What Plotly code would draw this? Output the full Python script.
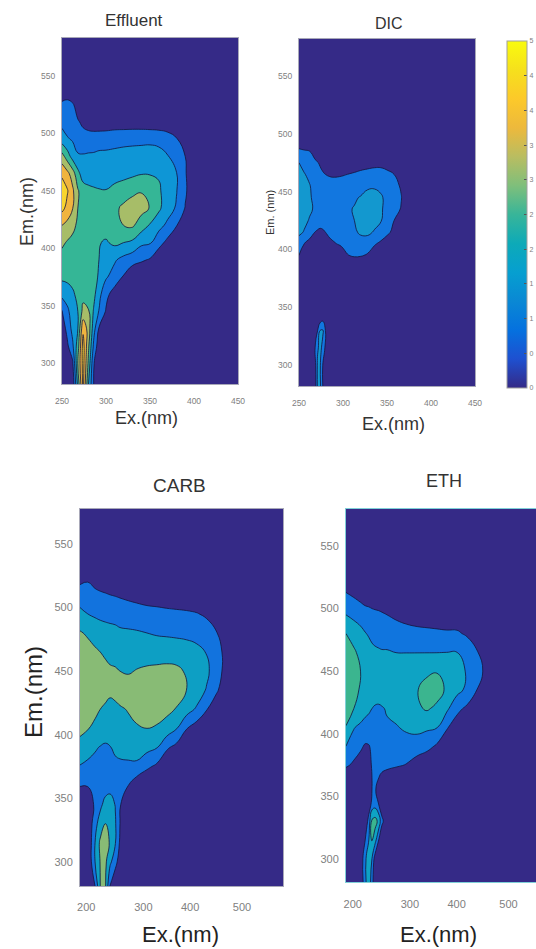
import plotly.graph_objects as go

W, H = 536, 949

parula = ["#352a87", "#1e50d0", "#0571df", "#0a88d4", "#069fd0", "#0daab8", "#38b599",
          "#7fbf7b", "#b9bd61", "#edb93c", "#fcc92a", "#f6e01c", "#f9fb0e"]

# ---------- Effluent ----------
eff_x = [250, 256, 262, 268, 274, 280, 286, 292, 300, 310, 320, 330, 340, 350, 360, 370, 380, 390, 400, 450]
eff_y = [281, 300, 315, 330, 345, 360, 375, 390, 405, 420, 435, 450, 465, 480, 495, 510, 525, 535, 585]
eff_z = [
    [0, 0, 0.2, 3.2, 6.3, 3.0, 1.0, 0, 0, 0, 0, 0, 0, 0, 0, 0, 0, 0, 0, 0],
    [0, 0, 0.8, 4.0, 6.4, 3.8, 1.1, 0, 0, 0, 0, 0, 0, 0, 0, 0, 0, 0, 0, 0],
    [0, 0.8, 1.8, 3.5, 6.4, 4.2, 1.8, 0.4, 0, 0, 0, 0, 0, 0, 0, 0, 0, 0, 0, 0],
    [0.4, 1.3, 2.3, 3.0, 5.8, 4.6, 2.4, 0.9, 0, 0, 0, 0, 0, 0, 0, 0, 0, 0, 0, 0],
    [0.9, 1.8, 2.4, 3.0, 4.3, 4.1, 2.9, 1.95, 0.9, 0, 0, 0, 0, 0, 0, 0, 0, 0, 0, 0],
    [2.3, 2.4, 2.8, 3.3, 3.7, 3.6, 3.3, 2.3, 1.3, 0.5, 0, 0, 0, 0, 0, 0, 0, 0, 0, 0],
    [3.2, 3.3, 3.4, 3.5, 3.6, 3.6, 3.3, 2.9, 2.1, 1.6, 0.9, 0.2, 0, 0, 0, 0, 0, 0, 0, 0],
    [3.6, 3.6, 3.6, 3.7, 3.7, 3.7, 3.3, 3.0, 2.6, 2.1, 1.7, 1.4, 1.15, 0.9, 0.2, 0, 0, 0, 0, 0],
    [4.2, 3.9, 3.7, 3.7, 3.7, 3.6, 3.4, 3.05, 2.9, 3.2, 3.0, 2.8, 2.2, 2.1, 1.4, 0.7, 0.1, 0, 0, 0],
    [5.0, 4.7, 4.3, 3.8, 3.5, 3.5, 3.5, 3.4, 3.4, 3.5, 4.0, 4.15, 3.5, 2.9, 2.3, 1.8, 1.05, 0.4, 0, 0],
    [6.3, 5.7, 5.05, 4.0, 3.6, 3.5, 3.4, 3.4, 3.4, 3.8, 4.2, 4.4, 4.35, 3.95, 3.2, 2.4, 1.9, 0.95, 0.2, 0],
    [6.6, 6.1, 5.2, 4.1, 3.5, 3.3, 3.2, 3.1, 3.05, 3.3, 3.5, 3.8, 3.95, 3.6, 3.15, 2.5, 2.05, 1.15, 0.3, 0],
    [5.8, 5.3, 4.5, 3.3, 2.5, 2.4, 2.3, 2.3, 2.4, 2.6, 2.7, 2.8, 2.95, 2.95, 2.9, 2.6, 2.05, 1.1, 0.2, 0],
    [4.4, 3.5, 2.6, 2.1, 2.1, 2.15, 2.15, 2.2, 2.2, 2.25, 2.3, 2.3, 2.35, 2.4, 2.3, 2.05, 1.6, 1.0, 0.1, 0],
    [2.5, 2.1, 1.9, 1.6, 1.4, 1.4, 1.5, 1.6, 1.65, 1.7, 1.75, 1.8, 1.8, 1.8, 1.75, 1.55, 1.1, 0.3, 0, 0],
    [1.7, 1.5, 1.3, 1.1, 0.8, 0.6, 0.4, 0.3, 0.3, 0.4, 0.4, 0.4, 0.4, 0.35, 0.3, 0.2, 0, 0, 0, 0],
    [1.2, 1.3, 1.15, 0.5, 0.1, 0, 0, 0, 0, 0, 0, 0, 0, 0, 0, 0, 0, 0, 0, 0],
    [0.5, 0.6, 0.2, 0, 0, 0, 0, 0, 0, 0, 0, 0, 0, 0, 0, 0, 0, 0, 0, 0],
    [0, 0, 0, 0, 0, 0, 0, 0, 0, 0, 0, 0, 0, 0, 0, 0, 0, 0, 0, 0],
]
eff_colors = ["#352a87", "#1272de", "#0e96d6", "#35b696", "#a7bd68", "#f0b43f", "#f8d52e"]

# ---------- DIC ----------
dic_x = [250, 256, 262, 268, 271, 274, 277, 280, 285, 290, 298, 305, 313, 320, 328, 336, 343, 351, 358, 366, 374, 450]
dic_y = [282, 300, 315, 330, 338, 345, 385, 395, 405, 415, 425, 435, 445, 455, 465, 475, 485, 500, 582]
dic_z = [
    [0, 0, 0, 0.3, 2.1, 2.2, 1.0, 0, 0, 0, 0, 0, 0, 0, 0, 0, 0, 0, 0, 0, 0, 0],
    [0, 0, 0, 0.5, 2.1, 2.1, 1.0, 0, 0, 0, 0, 0, 0, 0, 0, 0, 0, 0, 0, 0, 0, 0],
    [0, 0, 0, 0.9, 1.9, 2.2, 1.8, 0.8, 0, 0, 0, 0, 0, 0, 0, 0, 0, 0, 0, 0, 0, 0],
    [0, 0, 0, 0.4, 0.95, 2.0, 2.1, 1.0, 0, 0, 0, 0, 0, 0, 0, 0, 0, 0, 0, 0, 0, 0],
    [0, 0, 0, 0, 0.3, 0.8, 1.0, 0.5, 0, 0, 0, 0, 0, 0, 0, 0, 0, 0, 0, 0, 0, 0],
    [0, 0, 0, 0, 0, 0, 0, 0, 0, 0, 0, 0, 0, 0, 0, 0, 0, 0, 0, 0, 0, 0],
    [0, 0, 0, 0, 0, 0, 0, 0, 0, 0, 0, 0, 0, 0, 0, 0, 0, 0, 0, 0, 0, 0],
    [1.0, 0.4, 0, 0, 0, 0, 0, 0, 0, 0, 0.3, 0.95, 1.15, 1.1, 0.9, 0.4, 0, 0, 0, 0, 0, 0],
    [1.3, 1.0, 0.7, 0.5, 0.5, 0.5, 0.5, 0.6, 0.7, 0.9, 1.2, 1.4, 1.6, 1.7, 1.5, 1.1, 0.8, 0.3, 0, 0, 0, 0],
    [2.3, 1.9, 1.4, 1.0, 0.9, 0.85, 0.9, 1.0, 1.3, 1.5, 1.7, 1.8, 1.9, 2.1, 2.2, 1.9, 1.6, 1.2, 0.7, 0.1, 0, 0],
    [2.7, 2.3, 1.9, 1.6, 1.4, 1.3, 1.3, 1.35, 1.5, 1.6, 1.75, 1.9, 2.0, 2.4, 2.5, 2.3, 2.05, 1.6, 1.0, 0.4, 0, 0],
    [2.9, 2.6, 2.2, 1.85, 1.7, 1.6, 1.55, 1.55, 1.6, 1.7, 1.8, 1.9, 2.05, 2.5, 2.7, 2.5, 2.1, 1.7, 1.35, 0.95, 0.2, 0],
    [2.9, 2.6, 2.1, 1.8, 1.7, 1.6, 1.55, 1.55, 1.6, 1.7, 1.8, 1.85, 1.9, 2.05, 2.4, 2.4, 2.1, 1.75, 1.4, 1.05, 0.3, 0],
    [2.7, 2.4, 2.05, 1.7, 1.55, 1.5, 1.4, 1.4, 1.4, 1.45, 1.5, 1.55, 1.6, 1.65, 1.8, 1.85, 1.8, 1.6, 1.3, 0.9, 0.2, 0],
    [2.3, 2.05, 1.8, 1.5, 1.35, 1.2, 1.1, 1.0, 0.9, 0.85, 0.9, 1.0, 1.1, 1.25, 1.35, 1.4, 1.4, 1.25, 1.0, 0.4, 0, 0],
    [2.0, 1.7, 1.5, 1.2, 1.05, 0.9, 0.7, 0.55, 0.45, 0.4, 0.4, 0.45, 0.5, 0.5, 0.6, 0.7, 0.7, 0.5, 0.3, 0, 0, 0],
    [1.1, 1.05, 1.0, 0.6, 0.4, 0.3, 0.2, 0, 0, 0, 0, 0, 0, 0, 0, 0, 0, 0, 0, 0, 0, 0],
    [0.4, 0.3, 0.2, 0, 0, 0, 0, 0, 0, 0, 0, 0, 0, 0, 0, 0, 0, 0, 0, 0, 0, 0],
    [0, 0, 0, 0, 0, 0, 0, 0, 0, 0, 0, 0, 0, 0, 0, 0, 0, 0, 0, 0, 0, 0],
]
dic_colors = ["#352a87", "#1277e0", "#1398cf"]

# ---------- CARB ----------
carb_x = [188, 203, 217, 227, 237, 246, 256, 265, 281, 297, 317, 336, 355, 374, 393, 413, 432, 451, 470, 579]
carb_y = [281, 300, 315, 330, 345, 360, 375, 390, 405, 420, 435, 450, 465, 480, 495, 510, 520, 578]
carb_z = [
    [0, 0, 1.0, 3.0, 3.1, 0.9, 0, 0, 0, 0, 0, 0, 0, 0, 0, 0, 0, 0, 0, 0],
    [0, 0, 2.0, 3.05, 3.2, 2.2, 1.4, 0.4, 0, 0, 0, 0, 0, 0, 0, 0, 0, 0, 0, 0],
    [0, 0, 2.0, 3.2, 3.4, 2.9, 2.05, 0.85, 0, 0, 0, 0, 0, 0, 0, 0, 0, 0, 0, 0],
    [0, 0, 1.7, 2.4, 3.0, 2.9, 2.1, 1.0, 0, 0, 0, 0, 0, 0, 0, 0, 0, 0, 0, 0],
    [0, 0.2, 1.2, 1.8, 2.3, 2.5, 1.95, 1.1, 0, 0, 0, 0, 0, 0, 0, 0, 0, 0, 0, 0],
    [1.05, 1.05, 1.4, 1.5, 1.6, 1.6, 1.5, 1.4, 1.0, 0.3, 0, 0, 0, 0, 0, 0, 0, 0, 0, 0],
    [1.95, 1.8, 1.7, 1.65, 1.65, 1.7, 1.75, 1.8, 1.8, 1.8, 1.2, 0.8, 0.2, 0, 0, 0, 0, 0, 0, 0],
    [2.6, 2.35, 2.1, 1.95, 1.8, 1.95, 2.2, 2.3, 2.4, 2.45, 2.3, 2.05, 1.15, 0.7, 0.2, 0, 0, 0, 0, 0],
    [3.3, 3.05, 2.8, 2.65, 2.7, 2.7, 2.7, 2.75, 2.8, 2.9, 3.0, 2.9, 2.6, 2.05, 1.05, 0.5, 0.1, 0, 0, 0],
    [3.8, 3.5, 3.2, 3.0, 2.9, 2.85, 2.85, 2.9, 3.05, 3.3, 3.4, 3.4, 3.25, 2.95, 2.45, 1.85, 1.05, 0.3, 0, 0],
    [3.8, 3.7, 3.5, 3.4, 3.2, 3.1, 3.2, 3.4, 3.5, 3.6, 3.6, 3.6, 3.5, 3.3, 3.0, 2.6, 1.9, 1.15, 0.3, 0],
    [3.8, 3.7, 3.5, 3.35, 3.25, 3.15, 3.1, 3.0, 2.9, 3.05, 3.15, 3.2, 3.25, 3.2, 2.9, 2.6, 2.25, 1.3, 0.75, 0],
    [3.6, 3.4, 3.15, 3.0, 2.85, 2.7, 2.65, 2.6, 2.55, 2.55, 2.6, 2.6, 2.6, 2.55, 2.45, 2.3, 1.95, 1.3, 0.75, 0],
    [3.1, 2.85, 2.6, 2.5, 2.4, 2.35, 2.3, 2.2, 2.15, 2.1, 2.0, 1.9, 1.85, 1.8, 1.75, 1.6, 1.45, 1.05, 0.3, 0],
    [2.2, 2.0, 1.85, 1.75, 1.7, 1.65, 1.6, 1.5, 1.45, 1.4, 1.35, 1.3, 1.25, 1.2, 1.15, 1.05, 0.85, 0.4, 0, 0],
    [1.6, 1.5, 1.3, 1.2, 1.1, 1.0, 0.95, 0.9, 0.8, 0.7, 0.55, 0.5, 0.4, 0.35, 0.3, 0.25, 0.15, 0, 0, 0],
    [0.85, 1.0, 0.7, 0.5, 0.4, 0.3, 0.2, 0.15, 0, 0, 0, 0, 0, 0, 0, 0, 0, 0, 0, 0],
    [0, 0, 0, 0, 0, 0, 0, 0, 0, 0, 0, 0, 0, 0, 0, 0, 0, 0, 0, 0],
]
carb_colors = ["#352a87", "#1273de", "#0d9fc4", "#88bb75"]

# ---------- ETH ----------
eth_x = [187, 202, 215, 224, 231, 237, 243, 250, 256, 266, 285, 304, 324, 343, 362, 381, 401, 420, 439, 458, 553]
eth_y = [281, 300, 315, 330, 345, 355, 365, 375, 390, 405, 420, 435, 450, 465, 480, 495, 505, 515, 580]
eth_z = [
    [0, 0, 0, 1.8, 2.6, 1.5, 0, 0, 0, 0, 0, 0, 0, 0, 0, 0, 0, 0, 0, 0, 0],
    [0, 0, 0.2, 1.8, 2.7, 2.0, 0.5, 0, 0, 0, 0, 0, 0, 0, 0, 0, 0, 0, 0, 0, 0],
    [0, 0, 0, 1.0, 2.0, 3.1, 2.4, 1.0, 0, 0, 0, 0, 0, 0, 0, 0, 0, 0, 0, 0, 0],
    [0, 0, 0, 0.2, 1.4, 3.2, 3.4, 2.7, 1.3, 0.2, 0, 0, 0, 0, 0, 0, 0, 0, 0, 0, 0],
    [0, 0, 0, 0, 0.3, 1.2, 1.4, 0.9, 0.2, 0, 0, 0, 0, 0, 0, 0, 0, 0, 0, 0, 0],
    [0, 0, 0, 0, 0.4, 1.0, 1.1, 0.6, 0.2, 0.1, 0, 0, 0, 0, 0, 0, 0, 0, 0, 0, 0],
    [0.2, 0, 0, 0, 0.5, 1.0, 1.15, 1.02, 0.8, 0.5, 0.2, 0.1, 0, 0, 0, 0, 0, 0, 0, 0, 0],
    [1.2, 0.8, 0.6, 0.6, 0.8, 1.05, 1.2, 1.25, 1.3, 1.3, 1.15, 0.95, 0.4, 0.1, 0, 0, 0, 0, 0, 0, 0],
    [2.0, 1.6, 1.15, 0.9, 0.95, 1.15, 1.3, 1.4, 1.45, 1.5, 1.55, 1.6, 1.65, 1.35, 0.85, 0.3, 0, 0, 0, 0, 0],
    [2.95, 2.05, 1.8, 1.65, 1.6, 1.6, 1.65, 1.7, 1.75, 1.85, 1.95, 2.15, 2.2, 2.15, 2.05, 1.1, 0.5, 0, 0, 0, 0],
    [3.5, 3.0, 2.6, 2.3, 2.15, 2.0, 1.85, 1.8, 1.9, 2.1, 2.3, 2.5, 2.85, 3.1, 2.8, 2.2, 1.25, 0.8, 0.2, 0, 0],
    [3.8, 3.3, 2.9, 2.75, 2.7, 2.65, 2.65, 2.65, 2.65, 2.7, 2.75, 2.8, 2.95, 3.4, 3.4, 2.85, 2.3, 1.8, 1.0, 0.2, 0],
    [3.9, 3.5, 3.0, 2.8, 2.7, 2.6, 2.55, 2.55, 2.55, 2.55, 2.6, 2.65, 2.7, 2.8, 2.95, 2.75, 2.45, 1.9, 1.3, 0.8, 0],
    [3.6, 3.15, 2.75, 2.5, 2.4, 2.3, 2.2, 2.15, 2.1, 2.1, 1.98, 1.98, 1.98, 1.98, 1.98, 2.0, 2.0, 1.75, 1.1, 0.4, 0],
    [3.0, 2.6, 2.3, 2.05, 1.9, 1.7, 1.6, 1.5, 1.45, 1.4, 1.35, 1.3, 1.3, 1.25, 1.2, 1.15, 1.15, 0.85, 0.3, 0, 0],
    [2.0, 1.75, 1.55, 1.4, 1.35, 1.3, 1.28, 1.25, 1.15, 1.0, 0.85, 0.7, 0.5, 0.45, 0.4, 0.35, 0.3, 0.2, 0, 0, 0],
    [1.55, 1.25, 1.0, 0.85, 0.8, 0.7, 0.6, 0.5, 0.45, 0.35, 0.3, 0.2, 0.15, 0.1, 0, 0, 0, 0, 0, 0, 0],
    [0.85, 0.6, 0.4, 0.3, 0.2, 0.15, 0.1, 0, 0, 0, 0, 0, 0, 0, 0, 0, 0, 0, 0, 0, 0],
    [0, 0, 0, 0, 0, 0, 0, 0, 0, 0, 0, 0, 0, 0, 0, 0, 0, 0, 0, 0, 0],
]
eth_colors = ["#352a87", "#1075de", "#0ea3c4", "#3bb58f"]

# ---------- ticks ----------
eff_xticks = [250, 300, 350, 400, 450]
eff_xlabels = ["250", "300", "350", "400", "450"]
carb_xticks = [200, 310, 400, 500]
carb_xlabels = ["200", "300", "400", "500"]
em_ticks = [300, 350, 400, 450, 500, 550]
cbar_ticks = [0, 0.5, 1, 1.5, 2, 2.5, 3, 3.5, 4, 4.5, 5]
cbar_text = ["0", "0", "1", "1", "2", "2", "3", "3", "4", "4", "5"]

# panel: axes, x, y, z, colours, x ticks, x labels, x range, y range, px box(l,r,t,b), tick size, frame colour, standoff
panels = [
    ("x", "y", eff_x, eff_y, eff_z, eff_colors, eff_xticks, eff_xlabels, [250, 450], [282, 583], (62, 238, 38, 384), 8.5, "#a8a8b8", 9),
    ("x2", "y2", dic_x, dic_y, dic_z, dic_colors, eff_xticks, eff_xlabels, [250, 450], [282, 582], (299, 475, 39, 386), 8.5, "#a8a8b8", 9),
    ("x3", "y3", carb_x, carb_y, carb_z, carb_colors, carb_xticks, carb_xlabels, [188, 579], [281, 577.5], (80, 283, 509, 886), 11, "#a8a8b8", 11),
    ("x4", "y4", eth_x, eth_y, eth_z, eth_colors, carb_xticks, carb_xlabels, [187, 553], [281.4, 579.6], (346, 536, 509, 882), 11, "#7fd0d8", 12),
]


def stepped(colors):
    n = len(colors)
    scale = []
    for i, c in enumerate(colors):
        scale += [[i / n, c], [(i + 1) / n, c]]
    return scale


fig = go.Figure()
layout = {}
for xa, ya, xs, ys, zs, cols, xt, xl, xr, yr, (l, r, t, b), fs, frame, so in panels:
    n = len(cols)
    fig.add_trace(go.Contour(
        x=xs, y=ys, z=zs, xaxis=xa, yaxis=ya,
        zmin=0, zmax=n, colorscale=stepped(cols), showscale=False,
        contours=dict(start=1, end=n - 1, size=1, coloring="fill"),
        line=dict(color="#14143c", width=0.8, smoothing=1.3),
        hoverinfo="skip",
    ))
    suffix = xa[1:]
    tick = dict(size=fs, color="#808080", family="Liberation Sans")
    layout["xaxis" + suffix] = dict(
        domain=[l / W, r / W], range=xr, anchor=ya, tickmode="array", tickvals=xt, ticktext=xl,
        showgrid=False, zeroline=False, showline=True, mirror=True, linecolor=frame, linewidth=1,
        ticks="", tickfont=tick, ticklabelstandoff=so)
    layout["yaxis" + suffix] = dict(
        domain=[1 - b / H, 1 - t / H], range=yr, anchor=xa, tickmode="array", tickvals=em_ticks,
        showgrid=False, zeroline=False, showline=True, mirror=True, linecolor=frame, linewidth=1,
        ticks="", tickfont=tick, ticklabelstandoff=4)

# colour bar
fig.add_trace(go.Scatter(
    x=[None], y=[None], mode="markers", showlegend=False, hoverinfo="skip",
    marker=dict(color=[0], cmin=0, cmax=5, colorscale=[[i / 12, c] for i, c in enumerate(parula)],
                showscale=True,
                colorbar=dict(x=507 / W, xanchor="left", xpad=0, y=1 - 41 / H, yanchor="top", ypad=0,
                              lenmode="pixels", len=347, thicknessmode="pixels", thickness=20,
                              tickmode="array", tickvals=cbar_ticks, ticktext=cbar_text,
                              ticks="inside", ticklen=3, tickcolor="#555555",
                              tickfont=dict(size=7, color="#808080", family="Liberation Sans"),
                              outlinecolor="#a0a0a0", outlinewidth=1)),
))

TEXTS = [
    ("Effluent", 134, 21, 17, 0, "#333333"),
    ("DIC", 389, 23, 16, 0, "#333333"),
    ("CARB", 179, 485, 19, 0, "#333333"),
    ("ETH", 444, 481, 18, 0, "#333333"),
    ("Ex.(nm)", 146, 418, 18, 0, "#333333"),
    ("Ex.(nm)", 393, 424, 18, 0, "#333333"),
    ("Ex.(nm)", 180, 934, 22, 0, "#222222"),
    ("Ex.(nm)", 438, 934, 22, 0, "#222222"),
    ("Em.(nm)", 27, 212, 18, -90, "#333333"),
    ("Em. (nm)", 270, 213, 11, -90, "#333333"),
    ("Em.(nm)", 33, 692, 24, -90, "#222222"),
]
annotations = [dict(text=s, x=px / W, y=1 - py / H, xref="paper", yref="paper", xanchor="center", yanchor="middle",
                    showarrow=False, textangle=ang, font=dict(size=sz, color=col, family="Liberation Sans"))
               for s, px, py, sz, ang, col in TEXTS]

fig.update_layout(width=W, height=H, margin=dict(l=0, r=0, t=0, b=0, autoexpand=False), autosize=False,
                  paper_bgcolor="white", plot_bgcolor="#352a87", showlegend=False,
                  annotations=annotations, **layout)

fig.write_html("out.html", config=dict(displayModeBar=False),
               post_script="document.body.style.margin='0';document.documentElement.style.overflow='hidden';")
